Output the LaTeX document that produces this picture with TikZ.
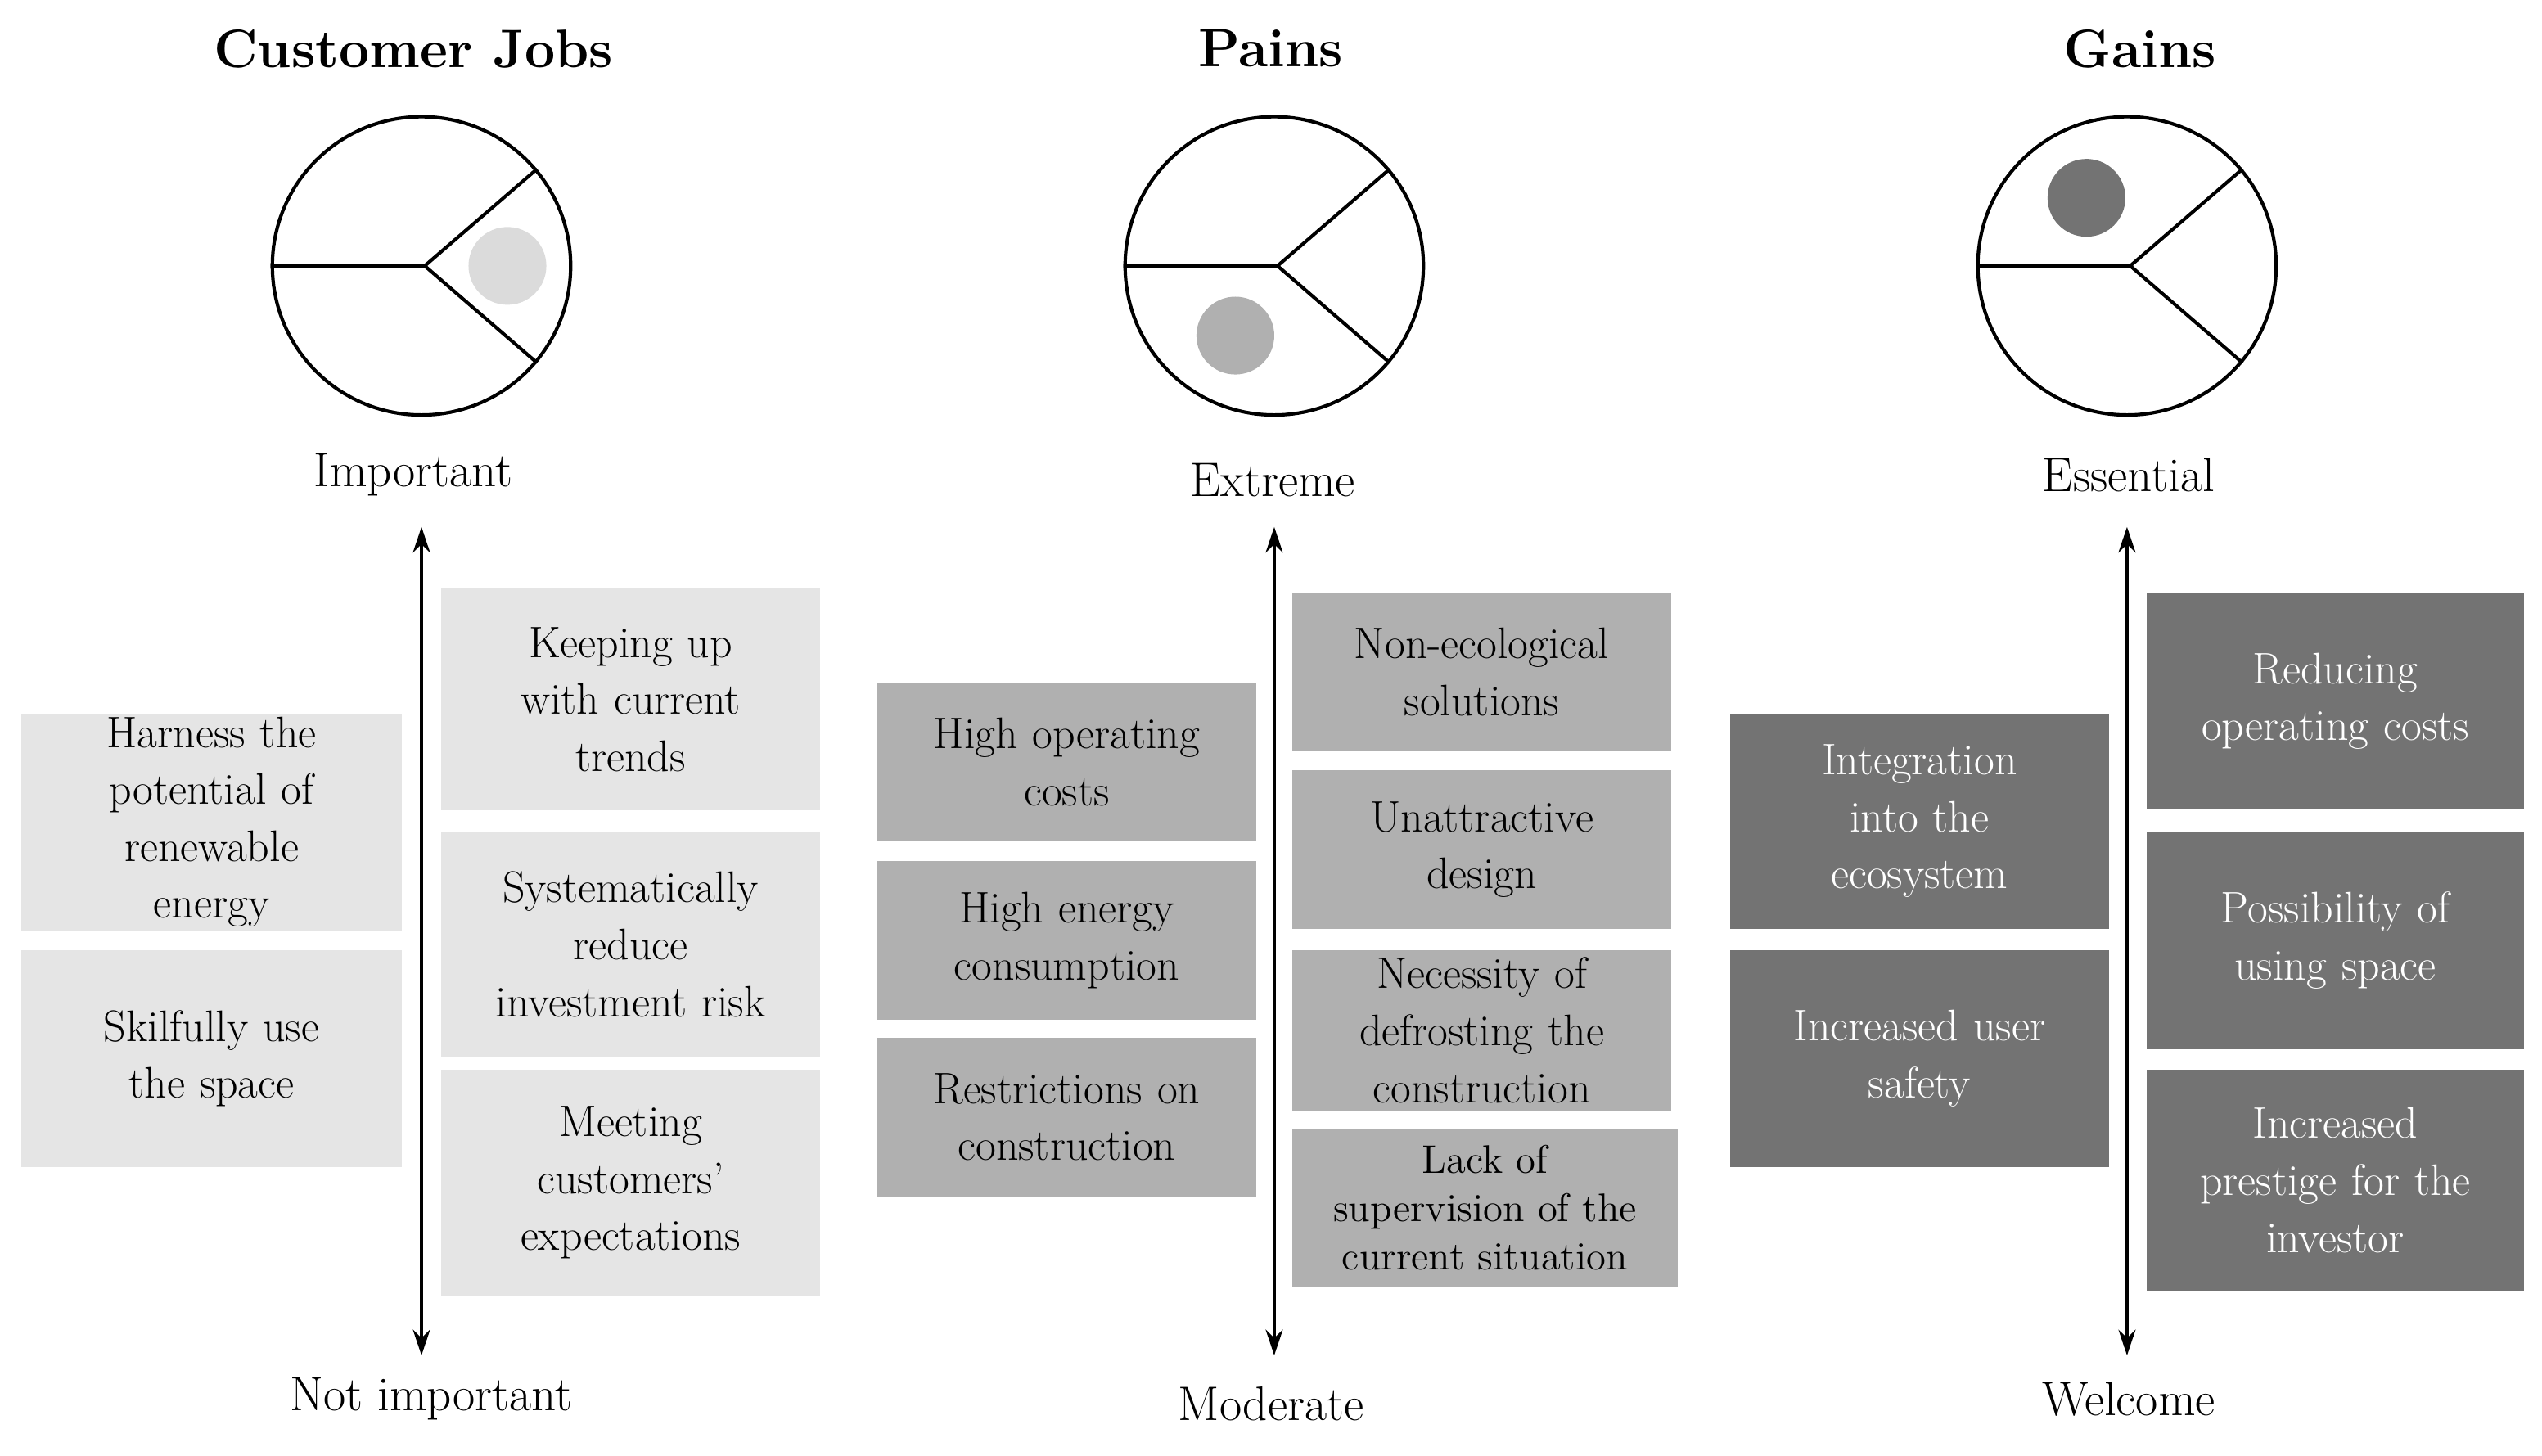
\documentclass[tikz,border=0pt]{standalone}
\usetikzlibrary{arrows.meta}
\begin{document}
\begin{tikzpicture}[x=0.02cm,y=-0.02cm,
  box/.style={draw=none,inner sep=0,align=center,font=\fontsize{15.5}{20}\selectfont},
  lt/.style={fill=black!10,text=black},
  md/.style={fill=black!31,text=black},
  dk/.style={fill=black!55,text=white},
  ttl/.style={font=\fontsize{19}{22}\selectfont\bfseries},
  lab/.style={font=\fontsize{17}{20}\selectfont},
  ax/.style={line width=1.2pt,{Stealth[length=9pt,width=6pt]}-{Stealth[length=9pt,width=6pt]}},
  circ/.style={line width=1.2pt}]
\useasboundingbox (0,0) rectangle (1568,898);
\newcommand{\bx}[6]{\fill[#6] (#1,#3) rectangle (#2,#4); \node[box,text width=#2*0.02cm-#1*0.02cm-0.3cm,#6,fill=none] (#5) at ({(#1+#2)/2},{(#3+#4)/2}) {\strut};}
% ---------- Column 1
\node[ttl] (t1) at (255,30) {Customer Jobs};
\node[circle,circ,draw,minimum size=184*0.02cm,inner sep=0] (c1) at (260,164) {};
\coordinate (j1) at (262,164);
\draw[circ] (c1.west) -- (j1) -- (c1.40);
\draw[circ] (j1) -- (c1.-40);
\node[circle,fill=black!14,minimum size=48*0.02cm,inner sep=0] (d1) at (313,164) {};
\node[lab] (i1) at (255,293) {Important};
\node[lab] (n1) at (266,863) {Not important};
\coordinate (a1t) at (260,325); \coordinate (a1b) at (260,836);
\draw[ax] (a1t) -- (a1b);
\foreach \x/\X/\y/\Y/\t in {13/248/440/574/{Harness the\\potential of\\renewable\\energy},13/248/586/720/{Skilfully use\\the space},272/506/363/500/{Keeping up\\with current\\trends},272/506/513/652/{Systematically\\reduce\\investment risk},272/506/660/799/{Meeting\\customers'\\expectations}}{
 \fill[black!10] (\x,\y) rectangle (\X,\Y);
 \node[box,text width=4.4cm] at ({(\x+\X)/2},{(\y+\Y)/2}) {\t};}
% ---------- Column 2
\node[ttl] (t2) at (784,30) {Pains};
\node[circle,circ,draw,minimum size=184*0.02cm,inner sep=0] (c2) at (786,164) {};
\coordinate (j2) at (788,164);
\draw[circ] (c2.west) -- (j2) -- (c2.40);
\draw[circ] (j2) -- (c2.-40);
\node[circle,fill=black!31,minimum size=48*0.02cm,inner sep=0] (d2) at (762,207) {};
\node[lab] (i2) at (785,296) {Extreme};
\node[lab] (n2) at (784,866) {Moderate};
\coordinate (a2t) at (786,325); \coordinate (a2b) at (786,836);
\draw[ax] (a2t) -- (a2b);
\foreach \x/\X/\y/\Y/\t in {541/775/421/519/{High operating\\costs},541/775/531/629/{High energy\\consumption},541/775/640/738/{Restrictions on\\construction},797/1031/366/463/{Non-ecological\\solutions},797/1031/475/573/{Unattractive\\design},797/1031/586/685/{Necessity of\\defrosting the\\construction}}{
 \fill[black!31] (\x,\y) rectangle (\X,\Y);
 \node[box,text width=4.4cm] at ({(\x+\X)/2},{(\y+\Y)/2}) {\t};}
\fill[black!31] (797,696) rectangle (1035,794);
\node[box,text width=4.6cm,font=\fontsize{14}{17}\selectfont] at (916,745) {Lack of\\supervision of the\\current situation};
% ---------- Column 3
\node[ttl] (t3) at (1320,30) {Gains};
\node[circle,circ,draw,minimum size=184*0.02cm,inner sep=0] (c3) at (1312,164) {};
\coordinate (j3) at (1314,164);
\draw[circ] (c3.west) -- (j3) -- (c3.40);
\draw[circ] (j3) -- (c3.-40);
\node[circle,fill=black!55,minimum size=48*0.02cm,inner sep=0] (d3) at (1287,122) {};
\node[lab] (i3) at (1313,293) {Essential};
\node[lab] (n3) at (1313,863) {Welcome};
\coordinate (a3t) at (1312,325); \coordinate (a3b) at (1312,836);
\draw[ax] (a3t) -- (a3b);
\foreach \x/\X/\y/\Y/\t in {1067/1301/440/573/{Integration\\into the\\ecosystem},1067/1301/586/720/{Increased user\\safety},1324/1557/366/499/{Reducing\\operating costs},1324/1557/513/647/{Possibility of\\using space},1324/1557/660/796/{Increased\\prestige for the\\investor}}{
 \fill[black!55] (\x,\y) rectangle (\X,\Y);
 \node[box,text width=4.4cm,text=white] at ({(\x+\X)/2},{(\y+\Y)/2}) {\t};}
\end{tikzpicture}
\end{document}
